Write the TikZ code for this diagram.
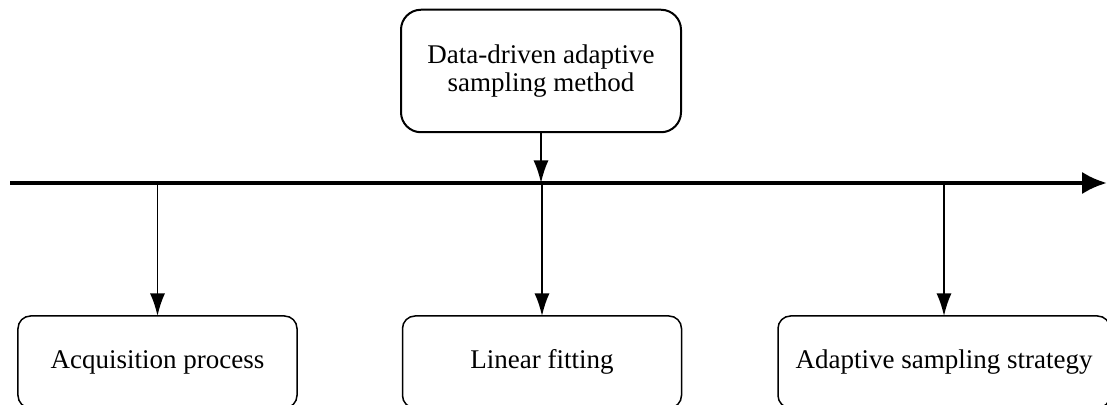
\documentclass[tikz,border=0pt]{standalone}
\usepackage{fontspec}
\setmainfont{Liberation Serif}
\usetikzlibrary{arrows.meta,positioning}

\begin{document}
\begin{tikzpicture}[
		x=0.4pt, y=-0.4pt,
		font=\fontsize{10.8}{11.5}\selectfont,
		block/.style={draw, line width=0.8pt, rounded corners=8pt, align=center, outer sep=0pt, minimum width=112pt, minimum height=49pt},
		step box/.style={draw, line width=0.6pt, rounded corners=5pt, align=center, outer sep=0pt, minimum width=111.6pt, minimum height=36.8pt},
		pointer/.style={line width=0.7pt, -{Latex[length=9pt, width=6pt]}}
	]
		\useasboundingbox (0,0) rectangle (1107,405);

		\node[block] (method) at (541,71) {Data-driven adaptive\\sampling method};

		\coordinate (time start) at (10,183);
		\coordinate (time end) at (1107,183);
		\draw[line width=1.6pt, -{Latex[length=10pt, width=9pt]}] (time start) -- (time end);

		\node[step box] (acq) at (157.5,362) {Acquisition process};
		\node[step box] (fit) at (542,362) {Linear fitting};
		\node[step box, minimum width=132.8pt] (strategy) at (944,362) {Adaptive sampling strategy};

		\draw[pointer] (method) -- (method |- time start);
		\draw[pointer] (acq |- time start) -- (acq);
		\draw[pointer] (fit |- time start) -- (fit);
		\draw[pointer] (strategy |- time start) -- (strategy);
	\end{tikzpicture}
\end{document}
